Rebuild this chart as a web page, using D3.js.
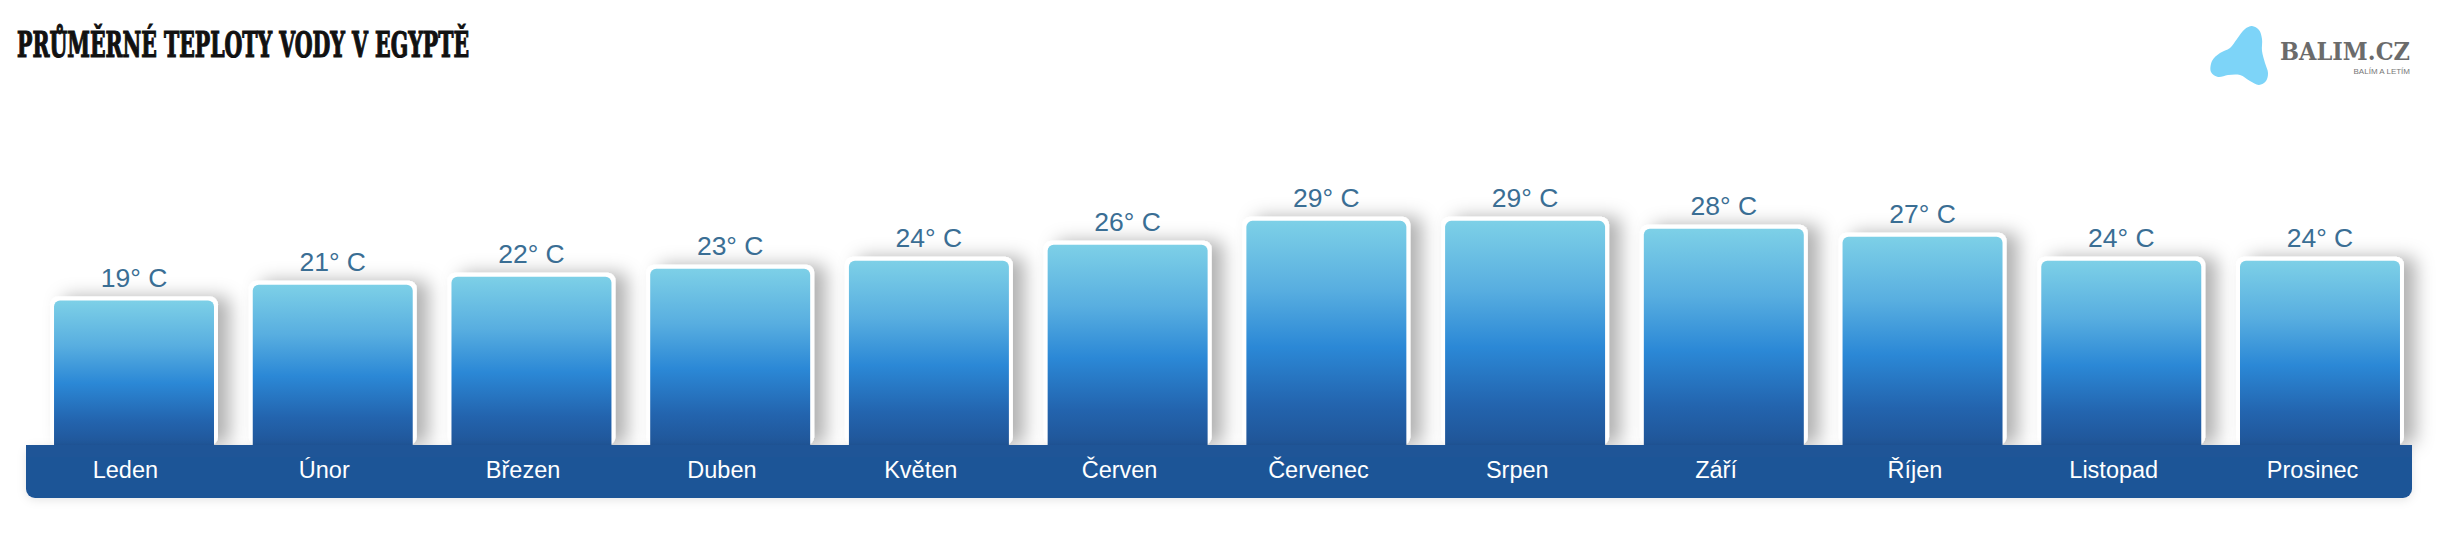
<!DOCTYPE html>
<html><head><meta charset="utf-8">
<script src="https://cdn.jsdelivr.net/npm/d3@7"></script>
<style>html,body{margin:0;padding:0;background:#fff;}svg{display:block;}</style>
</head><body>
<script>
const title = "PRŮMĚRNÉ TEPLOTY VODY V EGYPTĚ";
const months = ["Leden","Únor","Březen","Duben","Květen","Červen","Červenec","Srpen","Září","Říjen","Listopad","Prosinec"];
const temps = [19,21,22,23,24,26,29,29,28,27,24,24];
const unit = "° C";

const W = 2440, H = 538;
const svg = d3.select("body").append("svg").attr("width", W).attr("height", H);
const defs = svg.append("defs");

const grad = defs.append("linearGradient").attr("id","barGrad").attr("x1",0).attr("y1",0).attr("x2",0).attr("y2",1);
[[0,"#7dd0e7"],[0.3,"#58aee0"],[0.55,"#2b88d6"],[0.8,"#2364ae"],[1,"#1f5293"]].forEach(([o,c])=>grad.append("stop").attr("offset",o).attr("stop-color",c));

const sh = defs.append("filter").attr("id","shadow").attr("x","-20%").attr("y","-20%").attr("width","160%").attr("height","150%");
sh.append("feDropShadow").attr("dx",12).attr("dy",0).attr("stdDeviation",9).attr("flood-color","#000").attr("flood-opacity",0.3);
const sh2 = defs.append("filter").attr("id","shadow2").attr("x","-5%").attr("y","-50%").attr("width","110%").attr("height","200%");
sh2.append("feDropShadow").attr("dx",0).attr("dy",2).attr("stdDeviation",5).attr("flood-color","#000").attr("flood-opacity",0.1);

const bandLeft = 26, bandRight = 2412, bandTop = 445, bandBottom = 498;

const x = d3.scaleBand().domain(months).range([34.65, 2419.35]).paddingInner(0.195).paddingOuter(0.0975);
const xl = d3.scaleBand().domain(months).range([bandLeft, bandRight]);
const y = d3.scaleLinear().domain([0, 40]).range([452, 452 - 7.97*40]);

// bars
const g = svg.append("g");
const data = months.map((m,i)=>({m, v: temps[i]}));
g.selectAll("rect.frame").data(data).join("rect").attr("class","frame")
  .attr("x", d=>x(d.m)-4).attr("y", d=>y(d.v)-4)
  .attr("width", x.bandwidth()+8).attr("height", d=>bandTop - y(d.v) + 4)
  .attr("rx", 8).attr("fill","#fff").attr("filter","url(#shadow)");
g.selectAll("rect.bar").data(data).join("rect").attr("class","bar")
  .attr("x", d=>x(d.m)).attr("y", d=>y(d.v))
  .attr("width", x.bandwidth()).attr("height", d=>bandTop + 6 - y(d.v))
  .attr("rx", 6).attr("fill","url(#barGrad)");

g.selectAll("text.val").data(data).join("text").attr("class","val")
  .attr("x", d=>x(d.m)+x.bandwidth()/2).attr("y", d=>y(d.v)-14)
  .attr("text-anchor","middle").attr("font-family","'Liberation Sans', Arial, sans-serif")
  .attr("font-size",26.5).attr("fill","#3a6e94").text(d=>d.v+unit);

// band
svg.append("rect").attr("x",bandLeft).attr("y",bandTop).attr("width",bandRight-bandLeft).attr("height",bandBottom-bandTop)
  .attr("rx",9).attr("fill","#1f5597").attr("filter","url(#shadow2)");
svg.append("rect").attr("x",bandLeft).attr("y",bandTop).attr("width",bandRight-bandLeft).attr("height",12).attr("fill","#1f5597");

svg.selectAll("text.mon").data(months).join("text").attr("class","mon")
  .attr("x", d=>xl(d)+xl.bandwidth()/2).attr("y", 478)
  .attr("text-anchor","middle").attr("font-family","'Liberation Sans', Arial, sans-serif")
  .attr("font-size",23.5).attr("fill","#fff").text(d=>d);

// title
svg.append("text").attr("x",17).attr("y",57).attr("font-family","'DejaVu Serif'")
  .attr("font-weight","bold").attr("font-stretch","condensed").attr("font-size",35).attr("fill","#111")
  .attr("stroke","#111").attr("stroke-width",1.2)
  .attr("textLength",452).attr("lengthAdjust","spacingAndGlyphs").text(title);

// logo
const blobPts = [[55,14],[62,11],[69,15],[72,24],[72,36],[75,48],[78,58],[76,66],[69,70],[60,66],[50,60],[38,60],[28,62],[21,57],[22,46],[30,38],[40,33],[47,24]];
svg.append("path").attr("transform","translate(2190,15)")
  .attr("d", d3.line().curve(d3.curveCatmullRomClosed.alpha(0.5))(blobPts))
  .attr("fill","#7dd4f8");
svg.append("text").attr("x",2280).attr("y",59.5).attr("font-family","'DejaVu Serif','Liberation Serif',serif")
  .attr("font-weight","bold").attr("font-size",25).attr("fill","#6b6b6b")
  .attr("textLength",130).attr("lengthAdjust","spacingAndGlyphs").text("BALIM.CZ");
svg.append("text").attr("x",2410).attr("y",74).attr("text-anchor","end").attr("font-family","'Liberation Sans',Arial,sans-serif")
  .attr("font-size",8).attr("fill","#777").text("BALÍM A LETÍM");
</script>
</body></html>
